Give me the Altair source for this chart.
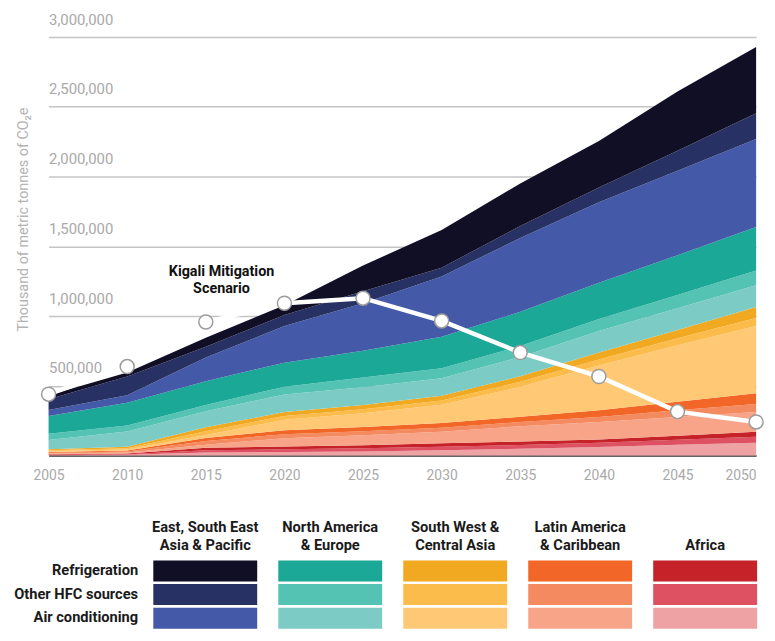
import altair as alt
import pandas as pd

years = [2005, 2010, 2015, 2020, 2025, 2030, 2035, 2040, 2045, 2050]

regions = ["East, South East\nAsia & Pacific", "North America\n& Europe",
           "South West &\nCentral Asia", "Latin America\n& Caribbean", "Africa"]
categories = ["Refrigeration", "Other HFC sources", "Air conditioning"]

# values in thousand of (thousand metric tonnes); multiplied by 1000 below
ea_ref = [29, 29, 64, 71, 185, 270, 305, 333, 426, 475]
ea_other = [78, 134, 78, 78, 85, 63, 85, 106, 142, 185]
ea_ac = [42, 54, 169, 263, 340, 433, 530, 578, 607, 631]
na_ref = [128, 163, 170, 172, 192, 225, 245, 260, 285, 312]
na_other = [45, 43, 45, 57, 70, 72, 78, 85, 94, 106]
na_ac = [65, 110, 115, 125, 128, 125, 138, 155, 156, 156]
sw_ref = [7, 10, 28, 28, 30, 35, 40, 50, 60, 78]
sw_other = [7, 9, 27, 28, 28, 30, 36, 43, 50, 57]
sw_ac = [6, 8, 22, 75, 100, 130, 215, 320, 405, 482]
la_ref = [6, 7, 22, 28, 30, 34, 38, 48, 60, 78]
la_other = [6, 7, 26, 28, 28, 29, 30, 36, 48, 57]
la_ac = [4, 7, 22, 60, 72, 82, 110, 125, 135, 142]
af_ref = [4, 6, 18, 20, 22, 25, 24, 24, 29, 35]
af_other = [3, 4, 16, 20, 22, 26, 28, 30, 36, 43]
af_ac = [3, 5, 22, 25, 30, 38, 48, 62, 77, 92]

kigali = [440, 638, 957, 1092, 1128, 965, 738, 567, 315, 241]

series = {
    (0, 0): ea_ref, (0, 1): ea_other, (0, 2): ea_ac,
    (1, 0): na_ref, (1, 1): na_other, (1, 2): na_ac,
    (2, 0): sw_ref, (2, 1): sw_other, (2, 2): sw_ac,
    (3, 0): la_ref, (3, 1): la_other, (3, 2): la_ac,
    (4, 0): af_ref, (4, 1): af_other, (4, 2): af_ac,
}
palette = {
    (0, 0): "#110f26", (0, 1): "#283163", (0, 2): "#4459a7",
    (1, 0): "#1ca896", (1, 1): "#55c3b3", (1, 2): "#7ccbc5",
    (2, 0): "#f1a922", (2, 1): "#fcbc4c", (2, 2): "#fec874",
    (3, 0): "#f26727", (3, 1): "#f48a60", (3, 2): "#f7a488",
    (4, 0): "#c62229", (4, 1): "#de5163", (4, 2): "#efa2a4",
}

# bottom-to-top stacking: Africa AC first ... East Asia refrigeration last
stack_seq = [(r, c) for r in range(4, -1, -1) for c in (2, 1, 0)]
keys = [regions[r].replace("\n", " ") + " - " + categories[c] for r, c in stack_seq]
colors = [palette[rc] for rc in stack_seq]

rows = []
for idx, (r, c) in enumerate(stack_seq):
    for y, v in zip(years, series[(r, c)]):
        rows.append({"year": y, "value": v * 1000, "key": keys[idx], "idx": idx})
df = pd.DataFrame(rows)

kdf = pd.DataFrame({"year": years, "value": [v * 1000 for v in kigali]})
ann = pd.DataFrame({"year": [2016.0], "value": [1316000]})

leg_rows = []
for r, reg in enumerate(regions):
    for c, cat in enumerate(categories):
        leg_rows.append({"region": reg, "category": cat,
                         "key": reg.replace("\n", " ") + " - " + cat})
ldf = pd.DataFrame(leg_rows)

color_scale = alt.Scale(domain=keys, range=colors)
gray = "#a9a9a9"

xenc = alt.X("year:Q", scale=alt.Scale(domain=[2005, 2050], nice=False, zero=False),
             axis=alt.Axis(values=years, format="d", title=None, grid=False, ticks=False,
                           tickSize=0, labelPadding=13, labelFontSize=14, labelColor=gray,
                           domainColor="#333333", domainWidth=1.5, labelFlush=False,
                           labelAlign={"condition": {"test": "datum.value >= 2050",
                                                     "value": "right"},
                                       "value": "center"}))
yenc = alt.Y("value:Q", stack="zero",
             scale=alt.Scale(domain=[0, 3000000], nice=False),
             axis=alt.Axis(values=[500000, 1000000, 1500000, 2000000, 2500000, 3000000],
                           format=",d", grid=True, gridColor="#c4c4c4", gridWidth=1.5,
                           domain=False, ticks=False, tickSize=0, labelAlign="left",
                           labelBaseline="alphabetic", labelOffset=-13, labelPadding=0,
                           labelFontSize=15, labelColor=gray,
                           title="Thousand of metric tonnes of CO\u2082e",
                           titleColor="#b3b3b3", titleFontSize=14.5, titleFontWeight="normal",
                           titleAngle=270, titleX=-25, titleY=184, titleAlign="center",
                           titleBaseline="middle"))

area = alt.Chart(df).mark_area(interpolate="linear").encode(
    x=xenc, y=yenc,
    color=alt.Color("key:N", scale=color_scale, legend=None),
    order=alt.Order("idx:Q", sort="ascending"),
)
line = alt.Chart(kdf).mark_line(color="white", strokeWidth=4.5).encode(
    x="year:Q", y="value:Q")
pts = alt.Chart(kdf).mark_circle(fill="white", stroke="#9c9c9c", strokeWidth=1.5,
                                 size=200, opacity=1).encode(x="year:Q", y="value:Q")
label = alt.Chart(ann).mark_text(text=["Kigali Mitigation", "Scenario"], fontWeight="bold",
                                 fontSize=14.5, lineHeight=17, color="#111111",
                                 align="center", baseline="middle").encode(
    x="year:Q", y="value:Q")

main = alt.layer(area, line, pts, label).properties(width=715, height=423)

legend = alt.Chart(ldf).mark_rect().encode(
    x=alt.X("region:N", sort=regions,
            scale=alt.Scale(paddingInner=0.1686, paddingOuter=0.419, align=1, round=False),
            axis=alt.Axis(orient="top", title=None, labelAngle=0, ticks=False, tickSize=0,
                          domain=False,
                          labelExpr="length(split(datum.label, '\\n')) == 1 ? ['', datum.label] : split(datum.label, '\\n')",
                          labelFontWeight="bold", labelFontSize=14.8, labelColor="#1a1a1a",
                          labelLineHeight=18, labelPadding=26, labelBaseline="bottom",
                          labelLimit=300)),
    y=alt.Y("category:N", sort=categories,
            scale=alt.Scale(paddingInner=0.11, paddingOuter=0, round=False),
            axis=alt.Axis(title=None, ticks=False, tickSize=0, domain=False,
                          labelAlign="right", labelPadding=-90, labelFontWeight="bold",
                          labelFontSize=14.8, labelColor="#1a1a1a", labelLimit=300)),
    color=alt.Color("key:N", scale=color_scale, legend=None),
).properties(width=716, height=69)

chart = alt.vconcat(main, legend, spacing=38).properties(
    padding={"left": 5, "top": 1, "right": 0, "bottom": 0}
).configure(font="Roboto").configure_view(stroke=None)

chart.save("out.html", embed_options={"renderer": "svg", "actions": False})
